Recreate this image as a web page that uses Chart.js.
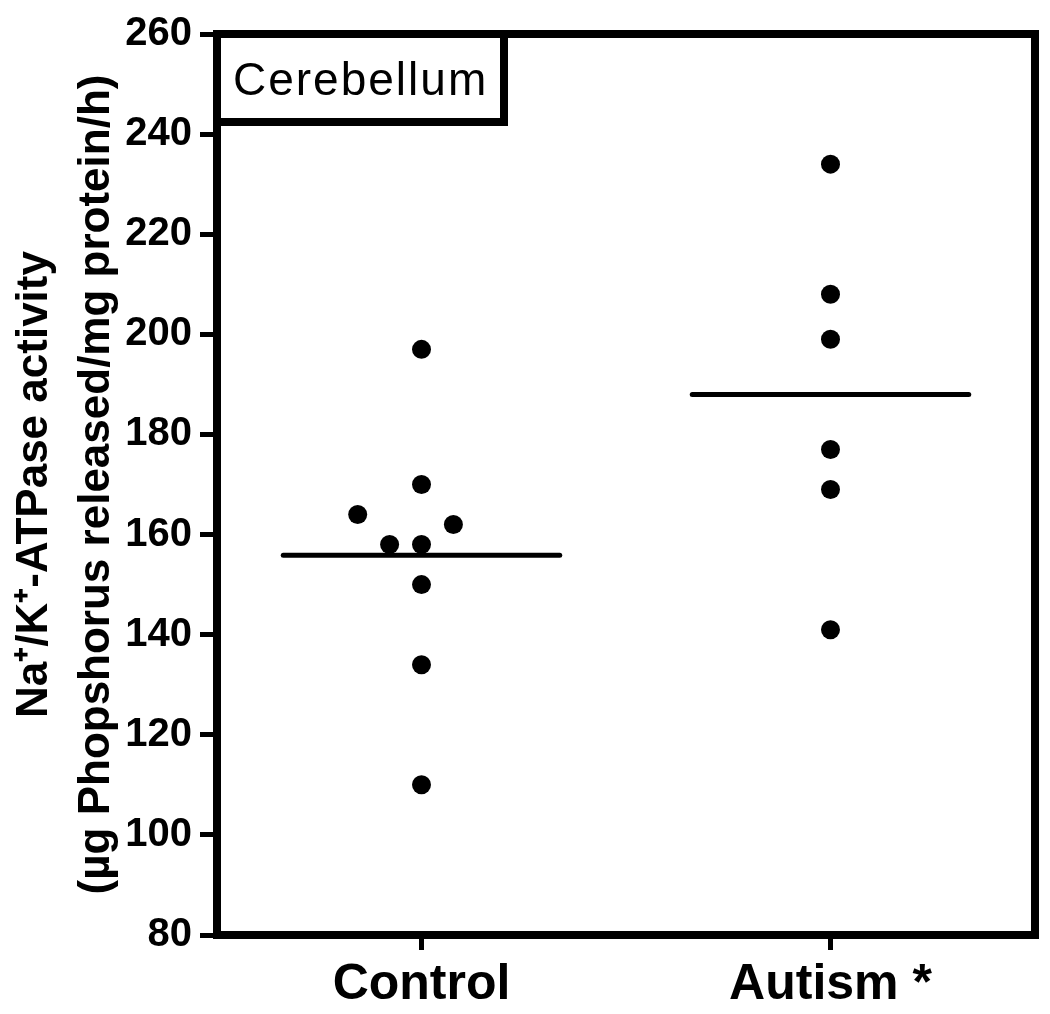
<!DOCTYPE html>
<html>
<head>
<meta charset="utf-8">
<script src="https://cdn.jsdelivr.net/npm/chart.js@4"></script>
<style>
  html, body { margin: 0; padding: 0; background: #fff; }
</style>
</head>
<body>
<canvas id="myChart" width="1050" height="1014"></canvas>
<script>
// groups along the x axis and where they sit (linear scale 0..2)
const groups = ["Control", "Autism *"];
const groupPos = [0.5, 1.5];

// individual values
const controlValues = [197, 170, 164, 162, 158, 158, 150, 134, 110];
const controlColumn = [0, 0, -2, 1, -1, 0, 0, 0, 0]; // side-by-side dots
const autismValues = [234, 208, 199, 177, 169, 141];
const autismColumn = [0, 0, 0, 0, 0, 0];

const yTicks = [80, 100, 120, 140, 160, 180, 200, 220, 240, 260];
const yTitle = ["Na\u207A/K\u207A-ATPase activity", "(\u00B5g Phopshorus released/mg protein/h)"];
const panelLabel = "Cerebellum";

const COL_STEP = 0.078;   // horizontal offset between dots that would overlap
const MEAN_HALF = 0.338;  // half width of the mean bar
const FONT = '"Liberation Sans", Arial, sans-serif';

function mean(arr) {
    var s = 0;
    for (var i in arr) s += arr[i];
    return s / arr.length;
}

function dots(values, columns, pos) {
    return values.map(function (v, i) {
        return { x: pos + columns[i] * COL_STEP, y: v };
    });
}

function meanBar(values, pos) {
    var m = mean(values);
    return [{ x: pos - MEAN_HALF, y: m }, { x: pos + MEAN_HALF, y: m }];
}

// frame on top/right plus the "Cerebellum" box
const framePlugin = {
    id: 'frame',
    afterDraw(chart) {
        const ctx = chart.ctx;
        const a = chart.chartArea;
        ctx.save();
        ctx.strokeStyle = '#000';
        ctx.lineWidth = 8;
        ctx.lineJoin = 'miter';
        ctx.strokeRect(a.left, a.top, a.right - a.left, a.bottom - a.top);

        // panel label box
        ctx.fillStyle = '#fff';
        ctx.fillRect(a.left, a.top, 287, 88);
        ctx.strokeRect(a.left, a.top, 287, 88);
        ctx.fillStyle = '#000';
        ctx.font = 'normal 46px ' + FONT;
        ctx.letterSpacing = '2px';
        ctx.textBaseline = 'middle';
        ctx.textAlign = 'left';
        ctx.fillText(panelLabel, a.left + 16, a.top + 48);
        ctx.restore();
    }
};

var ctx = document.getElementById('myChart').getContext('2d');
var chart = new Chart(ctx, {
    data: {
        datasets: [
            {
                type: 'scatter',
                data: dots(controlValues, controlColumn, groupPos[0]),
                backgroundColor: '#000',
                borderWidth: 0,
                pointRadius: 9.5
            },
            {
                type: 'scatter',
                data: dots(autismValues, autismColumn, groupPos[1]),
                backgroundColor: '#000',
                borderWidth: 0,
                pointRadius: 9.5
            },
            {
                type: 'line',
                data: meanBar(controlValues, groupPos[0]),
                borderColor: '#000',
                borderWidth: 5,
                borderCapStyle: 'round',
                pointRadius: 0
            },
            {
                type: 'line',
                data: meanBar(autismValues, groupPos[1]),
                borderColor: '#000',
                borderWidth: 5,
                borderCapStyle: 'round',
                pointRadius: 0
            }
        ]
    },
    options: {
        responsive: false,
        animation: false,
        devicePixelRatio: 1,
        layout: { padding: { top: 34, right: 15, bottom: 0, left: 0 } },
        plugins: {
            legend: { display: false },
            tooltip: { enabled: false }
        },
        scales: {
            x: {
                type: 'linear',
                min: 0,
                max: 2,
                afterBuildTicks: function (scale) {
                    scale.ticks = groupPos.map(function (p) { return { value: p }; });
                },
                afterFit: function (scale) { scale.height = 79; },
                ticks: {
                    color: '#000',
                    padding: 5,
                    maxRotation: 0,
                    font: { family: FONT, size: 50, weight: 'bold' },
                    callback: function (value, index) { return groups[index]; }
                },
                grid: {
                    drawOnChartArea: false,
                    color: '#000',
                    tickLength: 15,
                    tickWidth: 5
                },
                border: { color: '#000', width: 8 }
            },
            y: {
                type: 'linear',
                min: yTicks[0],
                max: yTicks[yTicks.length - 1],
                afterBuildTicks: function (scale) {
                    scale.ticks = yTicks.map(function (v) { return { value: v }; });
                },
                afterFit: function (scale) { scale.width = 217; },
                title: {
                    display: true,
                    text: yTitle,
                    color: '#000',
                    font: { family: FONT, size: 44, weight: 'bold', lineHeight: 1.41 },
                    padding: { top: 4, bottom: 0 }
                },
                ticks: {
                    color: '#000',
                    padding: 8,
                    font: { family: FONT, size: 40, weight: 'bold' }
                },
                grid: {
                    drawOnChartArea: false,
                    color: '#000',
                    tickLength: 17,
                    tickWidth: 5
                },
                border: { color: '#000', width: 8 }
            }
        }
    },
    plugins: [framePlugin]
});
</script>
</body>
</html>
